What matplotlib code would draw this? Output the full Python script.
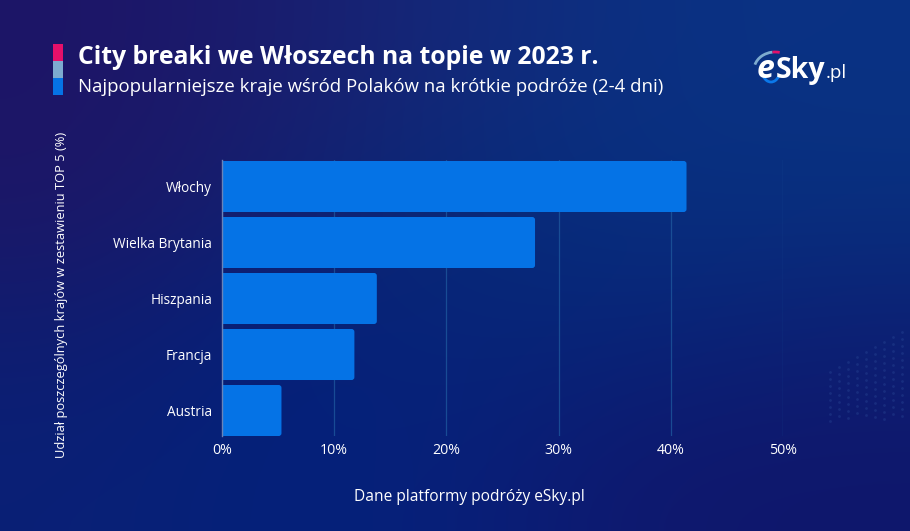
import numpy as np
import matplotlib
matplotlib.use('Agg')
import matplotlib.pyplot as plt
from matplotlib.patches import Arc, FancyBboxPatch, Rectangle
from matplotlib.colors import to_rgb

plt.rcParams['font.family'] = ['Open Sans', 'DejaVu Sans']

countries = ['Włochy', 'Wielka Brytania', 'Hiszpania', 'Francja', 'Austria']
shares = [41.4, 27.9, 13.8, 11.8, 5.3]
ticks = [0, 10, 20, 30, 40, 50]

W, H = 910, 531
fig = plt.figure(figsize=(W / 100, H / 100), dpi=100)

# background colours picked by eye on a coarse grid, smoothed by imshow
bg_grid = [['#1d1567', '#1a1d6e', '#14297a', '#0b3082', '#0a3284'],
           ['#1d1767', '#14206f', '#082a78', '#07307f', '#08307f'],
           ['#0f1d70', '#05207a', '#062578', '#082478', '#0d2074'],
           ['#0a2076', '#03217a', '#08207a', '#0f186e', '#0f176c']]
bg = fig.add_axes([0, 0, 1, 1], zorder=0)
bg.set_xlim(0, W)
bg.set_ylim(H, 0)
bg.axis('off')
img = np.array([[to_rgb(c) for c in row] for row in bg_grid])
bg.imshow(img, extent=(0, W, H, 0), aspect='auto', interpolation='bicubic')

# faint dots, lower right of the background
for i, dx in enumerate(range(830, 906, 9)):
    top = 372 - i * 5
    ys = np.arange(top, 422 - i % 2 * 4, 7)
    bg.scatter([dx] * len(ys), ys, s=4, color='#2c4c9a', alpha=0.35, lw=0)

# title marker
bg.add_patch(Rectangle((53, 44), 10, 17, color='#e5106a', lw=0))
bg.add_patch(Rectangle((53, 61), 10, 17, color='#7dabcf', lw=0))
bg.add_patch(Rectangle((53, 78), 10, 17, color='#0573e6', lw=0))

bg.text(78, 58, 'City breaki we Włoszech na topie w 2023 r.', color='white',
        fontsize=17.85, fontweight='bold', va='center', ha='left')
bg.text(78, 87, 'Najpopularniejsze kraje wśród Polaków na krótkie podróże (2-4 dni)',
        color='white', fontsize=13.4, va='center', ha='left')

# logo
bg.text(757, 78, 'e', color='white', fontsize=23, fontweight='bold', style='italic',
        va='baseline', ha='left')
bg.text(776, 78, 'Sky', color='white', fontsize=20.5, fontweight='bold', va='baseline', ha='left')
bg.text(826, 78, '.pl', color='white', fontsize=13.5, va='baseline', ha='left')
bg.add_patch(Arc((775, 70), 42, 36, theta1=195, theta2=262, color='#7dabcf', lw=2))
bg.add_patch(Arc((775, 70), 42, 36, theta1=262, theta2=285, color='#e5106a', lw=2))
bg.add_patch(Arc((771, 70), 18, 24, theta1=40, theta2=140, color='#0b78ea', lw=2))

# chart
ax = fig.add_axes([222 / W, 1 - 436 / H, (783 - 222) / W, (436 - 160) / H], zorder=1)
ax.patch.set_alpha(0)
ax.set_xlim(0, 50)
y = np.arange(len(countries))
ax.set_ylim(4.455, -0.473)
ax.grid(axis='x', color='#1f5a9f', lw=0.9, alpha=0.75)
ax.set_axisbelow(True)
bar_h = 0.911
# rounded right end, square left end
for yi, s in zip(y, shares):
    ax.add_patch(FancyBboxPatch((0, yi - bar_h / 2), s, bar_h,
                                boxstyle='round,pad=0,rounding_size=0.25',
                                mutation_aspect=0.2, fc='#0573e6', ec='none', zorder=3))
ax.barh(y, np.array(shares) / 2, height=bar_h, color='#0573e6', lw=0, zorder=3)
for s in ['top', 'right', 'bottom']:
    ax.spines[s].set_visible(False)
ax.spines['left'].set_color('#6a83b8')
ax.spines['left'].set_linewidth(1)
ax.spines['left'].set_zorder(4)
ax.set_yticks(y, countries)
ax.set_xticks(ticks, [f'{t}%' for t in ticks])
ax.tick_params(axis='both', length=0, colors='white')
ax.tick_params(axis='y', pad=7, labelsize=9.8)
ax.tick_params(axis='x', pad=5, labelsize=10.2)

bg.text(62, 295, 'Udział poszczególnych krajów w zestawieniu TOP 5 (%)', color='white',
        fontsize=9.25, rotation=90, va='center', ha='center')
bg.text(469, 497, 'Dane platformy podróży eSky.pl', color='white', fontsize=11.2,
        va='center', ha='center')

fig.savefig('out.png', dpi=100)
